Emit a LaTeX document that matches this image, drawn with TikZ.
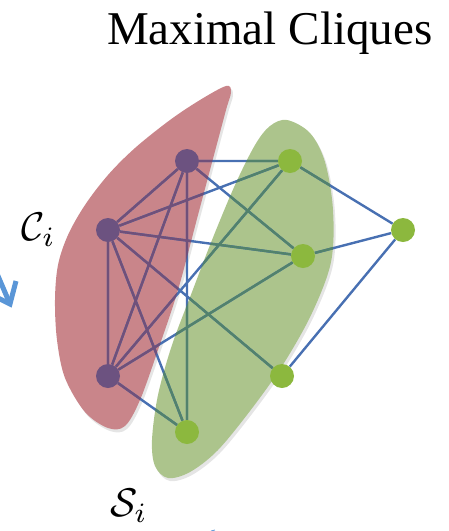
\documentclass[tikz,border=0pt]{standalone}
\usepackage{fontspec}
\newfontfamily\titlefont{Liberation Serif}
\usetikzlibrary{backgrounds}
\definecolor{edgeblue}{RGB}{72,112,178}
\definecolor{edgepurple}{RGB}{112,80,122}
\definecolor{edgegreen}{RGB}{82,130,108}
\definecolor{redfill}{RGB}{201,133,138}
\definecolor{greenfill}{RGB}{172,196,140}
\definecolor{nodepurple}{RGB}{108,82,128}
\definecolor{nodegreen}{RGB}{140,184,62}
\definecolor{arrowblue}{RGB}{90,150,215}
\newcommand\graphedges[1]{%
  \draw[graphline,#1] (P1)--(P2) (P1)--(P3) (P2)--(P3) (P1)--(G5) (P1)--(G1) (P1)--(G2)
    (P2)--(G1) (P2)--(G2) (P2)--(G4) (P2)--(G5) (P3)--(G1) (P3)--(G2) (P3)--(G5)
    (G1)--(G3) (G2)--(G3) (G3)--(G4);}
\begin{document}
\begin{tikzpicture}[x=1pt,y=-1pt,
  pdot/.style={circle, fill=nodepurple, minimum size=24pt, inner sep=0pt},
  gdot/.style={circle, fill=nodegreen, minimum size=24pt, inner sep=0pt},
  graphline/.style={line width=2.4pt},
  redshape/.style={insert path={plot[smooth cycle, tension=0.55] coordinates {
    (226,86) (200,100) (170,120) (135,148) (108,175) (85,205) (68,235) (58,265)
    (55,300) (57,340) (65,378) (85,412) (108,428) (125,426) (140,400) (158,350)
    (178,290) (198,215) (214,155) (226,110) (231,92)}}},
  greenshape/.style={insert path={plot[smooth cycle, tension=0.55] coordinates {
    (287,120) (310,133) (325,162) (333,210) (331,262) (312,313) (284,363)
    (253,407) (218,450) (190,472) (168,478) (155,466) (152,440) (158,395)
    (172,345) (192,292) (212,240) (235,185) (255,145) (270,126)}}},
  arrowline/.style={draw=arrowblue, line width=5pt, line join=miter, line cap=butt},
  lab/.style={inner sep=0pt, anchor=base west}
]
\useasboundingbox (0,0) rectangle (448,531);

% title
\node[font=\titlefont\fontsize{47}{50}\selectfont, anchor=base west, inner sep=0pt] (title) at (107,44) {Maximal Cliques};

% graph nodes
\node[pdot] (P1) at (187,161) {};
\node[pdot] (P2) at (108,230) {};
\node[pdot] (P3) at (108,376) {};
\node[gdot] (G1) at (290,161) {};
\node[gdot] (G2) at (303,256) {};
\node[gdot] (G3) at (403,230) {};
\node[gdot] (G4) at (282,376) {};
\node[gdot] (G5) at (187,432) {};

% labels
\node[lab] (Ci) at (21,240) {\scalebox{4.0}{$\mathcal{C}_i$}};
\node[lab] (Si) at (110,516) {\scalebox{4.0}{$\mathcal{S}_i$}};

% cropped arrows at the borders
\begin{scope}
  \clip (0,0) rectangle (448,531);
  \coordinate (arrTail) at (-14,248);
  \coordinate (arrTip) at (10,304);
  \coordinate (arrBarbR) at (16,281);
  \coordinate (arrBarbL) at (-12,293);
  \draw[arrowline] (arrTail) -- (arrTip);
  \draw[arrowline] (arrBarbR) -- (arrTip) -- (arrBarbL);
  \coordinate (botA) at (211,531);
  \coordinate (botB) at (215,530);
  \draw[draw=arrowblue, line width=0.8pt] (botA) -- (botB);
\end{scope}

\begin{pgfonlayer}{background}
  \fill[black, opacity=0.10, shift={(2,3)}, redshape];
  \fill[black, opacity=0.10, shift={(2,3)}, greenshape];
  \fill[redfill, redshape];
  \fill[greenfill, greenshape];
  \graphedges{edgeblue}
  \begin{scope}
    \clip[redshape];
    \graphedges{edgepurple}
  \end{scope}
  \begin{scope}
    \clip[greenshape];
    \graphedges{edgegreen}
  \end{scope}
\end{pgfonlayer}
\end{tikzpicture}
\end{document}
